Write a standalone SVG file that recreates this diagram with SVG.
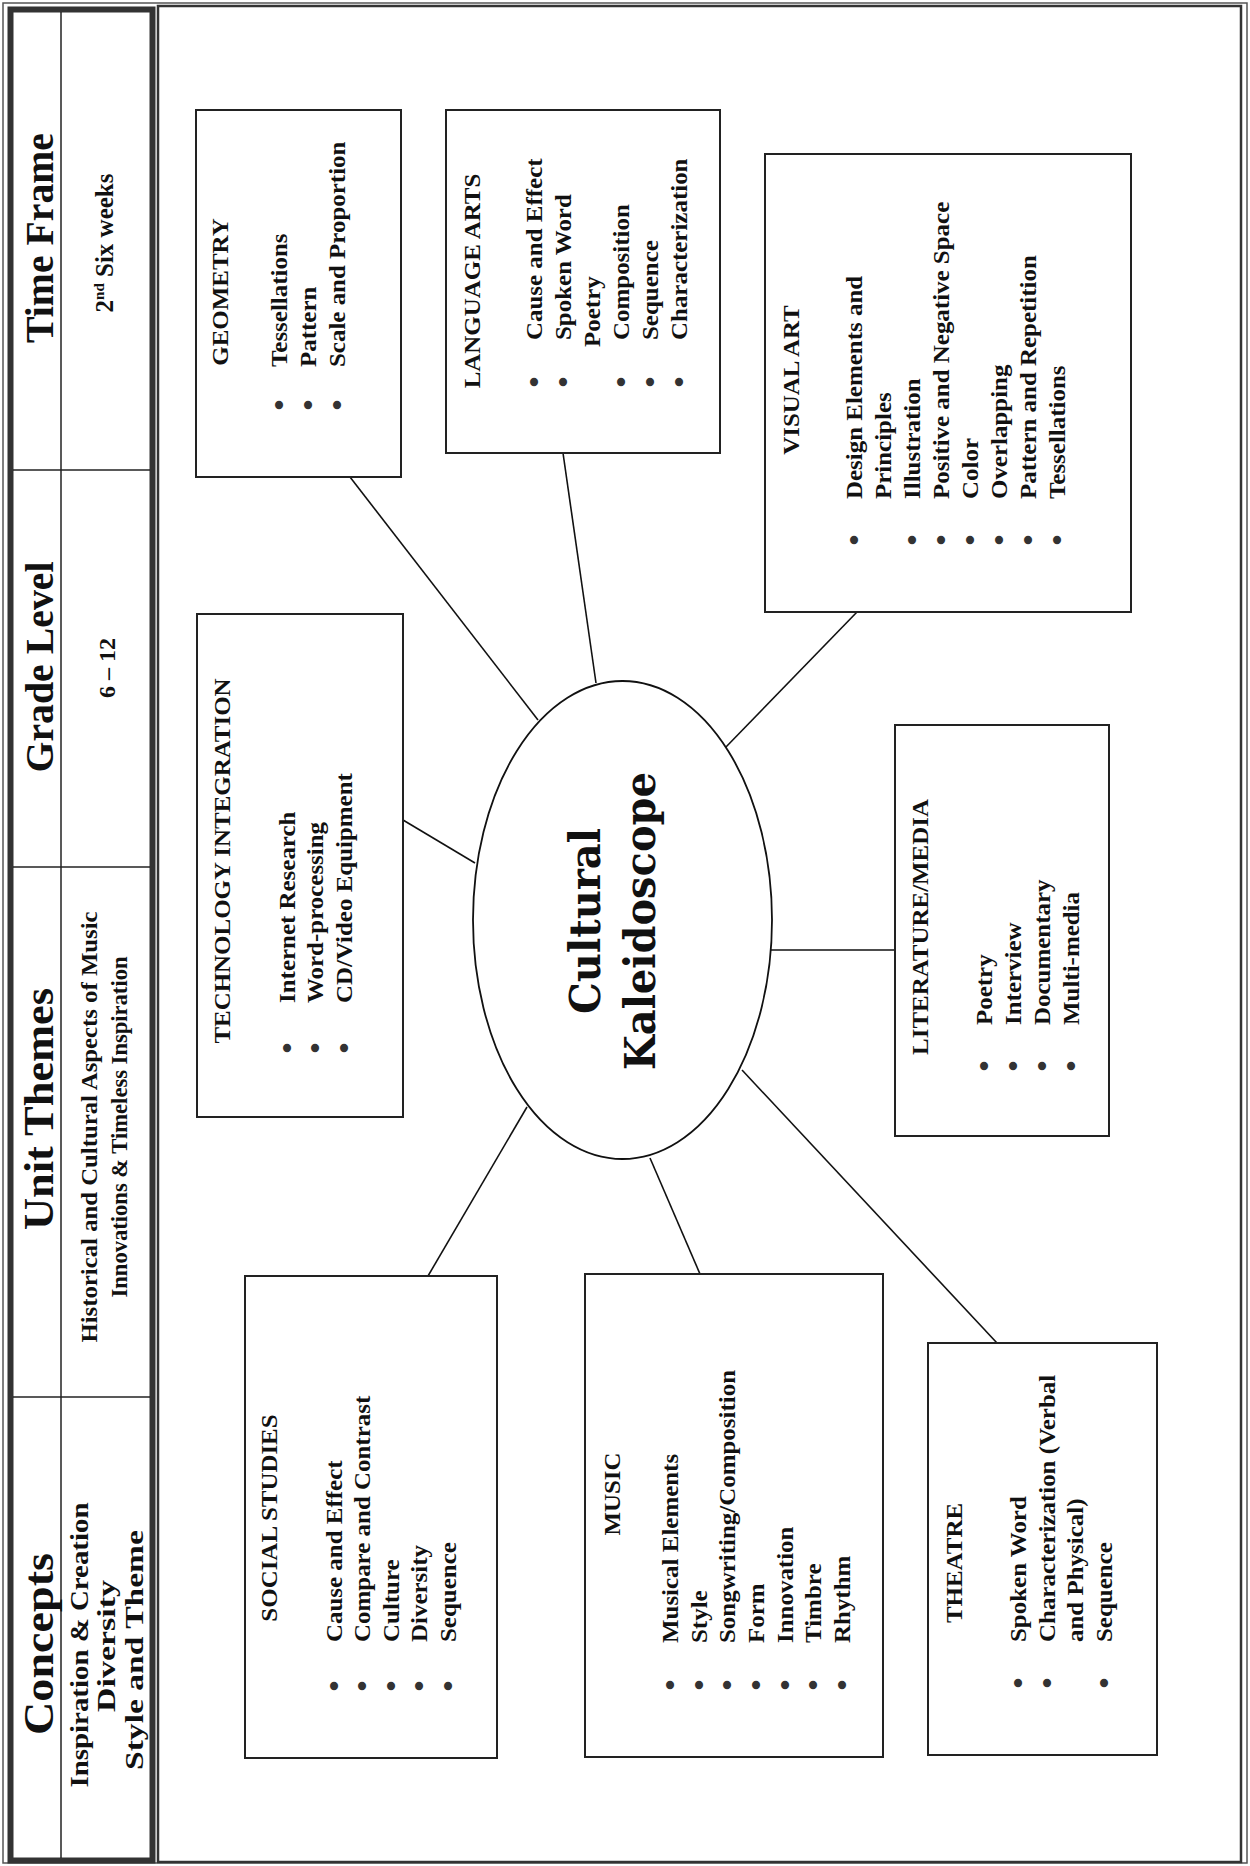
<svg xmlns="http://www.w3.org/2000/svg" width="1250" height="1866" viewBox="0 0 1250 1866">
<style>
.t{font-family:"Liberation Serif","Times New Roman",serif;font-weight:bold;font-size:24px;fill:#111}
.h{font-family:"Liberation Serif","Times New Roman",serif;font-weight:bold;fill:#111}
.b{text-anchor:middle;font-size:30px;fill:#333}
.m{text-anchor:middle}
.box{fill:#fff;stroke:#222;stroke-width:2}
.conn line{stroke:#111;stroke-width:1.6}
</style>
<rect x="0" y="0" width="1250" height="1866" fill="#fff"/>
<g id="frame" fill="none">
<rect x="3" y="3" width="1244" height="1860" stroke="#555" stroke-width="1.5"/>
<rect x="10.5" y="9.5" width="142" height="1851" stroke="#333" stroke-width="6"/>
<rect x="158" y="6" width="1083" height="1856" stroke="#333" stroke-width="2.5"/>
<line x1="61" y1="12" x2="61" y2="1858" stroke="#222" stroke-width="1.5"/>
<line x1="13" y1="470" x2="150" y2="470" stroke="#222" stroke-width="1.5"/>
<line x1="13" y1="867" x2="150" y2="867" stroke="#222" stroke-width="1.5"/>
<line x1="13" y1="1397" x2="150" y2="1397" stroke="#222" stroke-width="1.5"/>
</g>
<g id="header">
<text class="h m" font-size="40" textLength="210" lengthAdjust="spacingAndGlyphs" transform="translate(53,238) rotate(-90)">Time Frame</text>
<text class="h m" font-size="25" transform="translate(113,243) rotate(-90)">2<tspan font-size="15" dy="-9">nd</tspan><tspan dy="9"> Six weeks</tspan></text>
<text class="h m" font-size="40" textLength="211" lengthAdjust="spacingAndGlyphs" transform="translate(53,667) rotate(-90)">Grade Level</text>
<text class="h m" font-size="24" transform="translate(115,668) rotate(-90)">6 – 12</text>
<text class="h m" font-size="42" textLength="242" lengthAdjust="spacingAndGlyphs" transform="translate(53,1109) rotate(-90)">Unit Themes</text>
<text class="h m" font-size="24" textLength="431" lengthAdjust="spacingAndGlyphs" transform="translate(97,1127) rotate(-90)">Historical and Cultural Aspects of Music</text>
<text class="h m" font-size="24" textLength="341" lengthAdjust="spacingAndGlyphs" transform="translate(127,1127) rotate(-90)">Innovations &amp; Timeless Inspiration</text>
<text class="h m" font-size="42" textLength="182" lengthAdjust="spacingAndGlyphs" transform="translate(53,1644) rotate(-90)">Concepts</text>
<text class="h m" font-size="25" textLength="285" lengthAdjust="spacingAndGlyphs" transform="translate(88,1645) rotate(-90)">Inspiration &amp; Creation</text>
<text class="h m" font-size="25" textLength="132" lengthAdjust="spacingAndGlyphs" transform="translate(115,1646) rotate(-90)">Diversity</text>
<text class="h m" font-size="25" textLength="240" lengthAdjust="spacingAndGlyphs" transform="translate(143,1650) rotate(-90)">Style and Theme</text>
</g>
<g class="conn" id="connectors">
<line x1="350" y1="477" x2="538" y2="720"/>
<line x1="563" y1="453" x2="596" y2="683"/>
<line x1="403" y1="820" x2="475" y2="863"/>
<line x1="857" y1="612" x2="725" y2="748"/>
<line x1="771" y1="950" x2="895" y2="950"/>
<line x1="428" y1="1276" x2="527" y2="1107"/>
<line x1="700" y1="1274" x2="650" y2="1158"/>
<line x1="997" y1="1343" x2="742" y2="1070"/>
</g>
<g id="center">
<ellipse cx="622.5" cy="920" rx="149.5" ry="239" fill="#fff" stroke="#111" stroke-width="1.8"/>
<text font-family="DejaVu Serif, serif" font-weight="bold" font-size="42" fill="#111" text-anchor="middle" textLength="186" lengthAdjust="spacingAndGlyphs" transform="translate(600,921) rotate(-90)">Cultural</text>
<text font-family="DejaVu Serif, serif" font-weight="bold" font-size="42" fill="#111" text-anchor="middle" textLength="298" lengthAdjust="spacingAndGlyphs" transform="translate(655,921) rotate(-90)">Kaleidoscope</text>
</g>
<g id="geometry">
<rect class="box" x="196" y="110" width="205" height="367"/>
<text class="t m" transform="matrix(0,-1.04,1,0,228,292)">GEOMETRY</text>
<g transform="matrix(0,-1.04,1,0,287,367)">
<text class="t" x="0" y="0">Tessellations</text>
<text class="t" x="0" y="29">Pattern</text>
<text class="t" x="0" y="58">Scale and Proportion</text>
<text class="t b" x="-36.5" y="2">•</text>
<text class="t b" x="-36.5" y="31">•</text>
<text class="t b" x="-36.5" y="60">•</text>
</g>
</g>
<g id="language-arts">
<rect class="box" x="446" y="110" width="274" height="343"/>
<text class="t m" transform="matrix(0,-1.04,1,0,480,281)">LANGUAGE ARTS</text>
<g transform="matrix(0,-1.04,1,0,542,340)">
<text class="t" x="0" y="0">Cause and Effect</text>
<text class="t" x="0" y="29">Spoken Word</text>
<text class="t" x="-6.7" y="58">Poetry</text>
<text class="t" x="0" y="87">Composition</text>
<text class="t" x="0" y="116">Sequence</text>
<text class="t" x="0" y="145">Characterization</text>
<text class="t b" x="-40.4" y="2">•</text>
<text class="t b" x="-40.4" y="31">•</text>
<text class="t b" x="-40.4" y="89">•</text>
<text class="t b" x="-40.4" y="118">•</text>
<text class="t b" x="-40.4" y="147">•</text>
</g>
</g>
<g id="technology-integration">
<rect class="box" x="197" y="614" width="206" height="503"/>
<text class="t m" transform="matrix(0,-1.04,1,0,230,861)">TECHNOLOGY INTEGRATION</text>
<g transform="matrix(0,-1.04,1,0,295,1003)">
<text class="t" x="0" y="0">Internet Research</text>
<text class="t" x="0" y="28.5">Word-processing</text>
<text class="t" x="0" y="57">CD/Video Equipment</text>
<text class="t b" x="-43.3" y="2">•</text>
<text class="t b" x="-43.3" y="30.5">•</text>
<text class="t b" x="-43.3" y="59">•</text>
</g>
</g>
<g id="visual-art">
<rect class="box" x="765" y="154" width="366" height="458"/>
<text class="t m" transform="matrix(0,-1.04,1,0,799,380)">VISUAL ART</text>
<g transform="matrix(0,-1.04,1,0,862,499)">
<text class="t" x="0" y="0">Design  Elements and</text>
<text class="t" x="0" y="29">Principles</text>
<text class="t" x="0" y="58">Illustration</text>
<text class="t" x="0" y="87">Positive and Negative Space</text>
<text class="t" x="0" y="116">Color</text>
<text class="t" x="0" y="145">Overlapping</text>
<text class="t" x="0" y="174">Pattern and Repetition</text>
<text class="t" x="0" y="203">Tessellations</text>
<text class="t b" x="-39.4" y="2">•</text>
<text class="t b" x="-39.4" y="60">•</text>
<text class="t b" x="-39.4" y="89">•</text>
<text class="t b" x="-39.4" y="118">•</text>
<text class="t b" x="-39.4" y="147">•</text>
<text class="t b" x="-39.4" y="176">•</text>
<text class="t b" x="-39.4" y="205">•</text>
</g>
</g>
<g id="literature-media">
<rect class="box" x="895" y="725" width="214" height="411"/>
<text class="t m" transform="matrix(0,-1.04,1,0,928,927)">LITERATURE/MEDIA</text>
<g transform="matrix(0,-1.04,1,0,992,1025)">
<text class="t" x="0" y="0">Poetry</text>
<text class="t" x="0" y="29">Interview</text>
<text class="t" x="0" y="58">Documentary</text>
<text class="t" x="0" y="87">Multi-media</text>
<text class="t b" x="-39.4" y="2">•</text>
<text class="t b" x="-39.4" y="31">•</text>
<text class="t b" x="-39.4" y="60">•</text>
<text class="t b" x="-39.4" y="89">•</text>
</g>
</g>
<g id="social-studies">
<rect class="box" x="245" y="1276" width="252" height="482"/>
<text class="t m" transform="matrix(0,-1.04,1,0,277,1518)">SOCIAL STUDIES</text>
<g transform="matrix(0,-1.04,1,0,342,1642)">
<text class="t" x="0" y="0">Cause and Effect</text>
<text class="t" x="0" y="28.5">Compare and Contrast</text>
<text class="t" x="0" y="57">Culture</text>
<text class="t" x="0" y="85.5">Diversity</text>
<text class="t" x="0" y="114">Sequence</text>
<text class="t b" x="-42.3" y="2">•</text>
<text class="t b" x="-42.3" y="30.5">•</text>
<text class="t b" x="-42.3" y="59">•</text>
<text class="t b" x="-42.3" y="87.5">•</text>
<text class="t b" x="-42.3" y="116">•</text>
</g>
</g>
<g id="music">
<rect class="box" x="585" y="1274" width="298" height="483"/>
<text class="t m" transform="matrix(0,-1.04,1,0,620,1494)">MUSIC</text>
<g transform="matrix(0,-1.04,1,0,678,1643)">
<text class="t" x="0" y="0">Musical Elements</text>
<text class="t" x="0" y="28.7">Style</text>
<text class="t" x="0" y="57.3">Songwriting/Composition</text>
<text class="t" x="0" y="86">Form</text>
<text class="t" x="0" y="114.7">Innovation</text>
<text class="t" x="0" y="143.3">Timbre</text>
<text class="t" x="0" y="172">Rhythm</text>
<text class="t b" x="-40.4" y="2">•</text>
<text class="t b" x="-40.4" y="30.7">•</text>
<text class="t b" x="-40.4" y="59.3">•</text>
<text class="t b" x="-40.4" y="88">•</text>
<text class="t b" x="-40.4" y="116.7">•</text>
<text class="t b" x="-40.4" y="145.3">•</text>
<text class="t b" x="-40.4" y="174">•</text>
</g>
</g>
<g id="theatre">
<rect class="box" x="928" y="1343" width="229" height="412"/>
<text class="t m" transform="matrix(0,-1.04,1,0,962,1563)">THEATRE</text>
<g transform="matrix(0,-1.04,1,0,1026,1642)">
<text class="t" x="0" y="0">Spoken Word</text>
<text class="t" x="0" y="29">Characterization (Verbal</text>
<text class="t" x="0" y="57">and Physical)</text>
<text class="t" x="0" y="86">Sequence</text>
<text class="t b" x="-39.4" y="2">•</text>
<text class="t b" x="-39.4" y="31">•</text>
<text class="t b" x="-39.4" y="88">•</text>
</g>
</g>
</svg>
